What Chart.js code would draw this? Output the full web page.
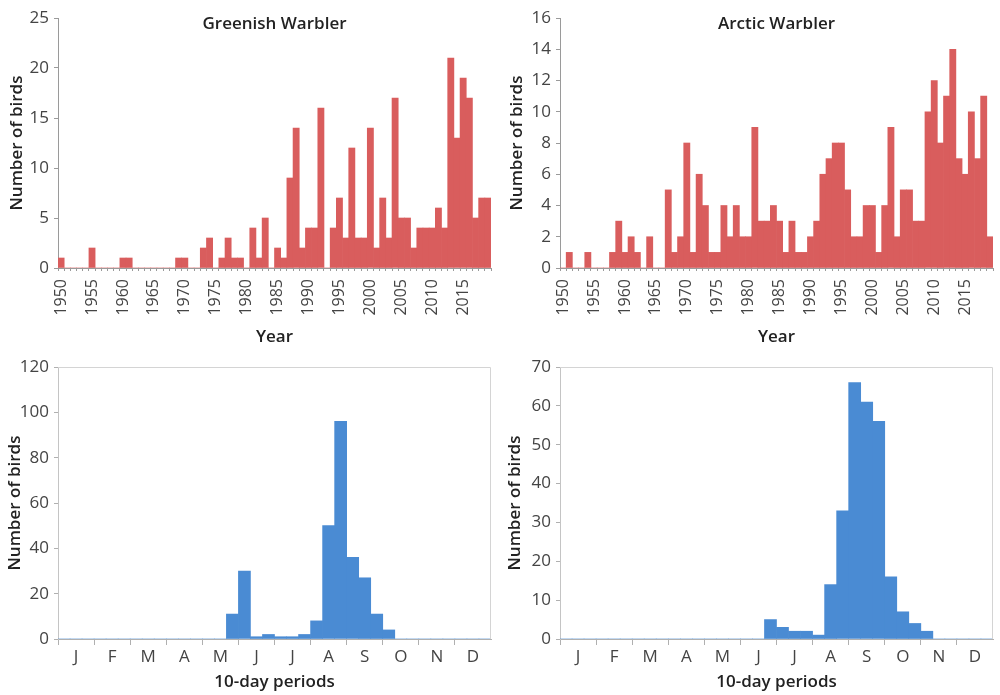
<!DOCTYPE html>
<html>
<head>
<meta charset="utf-8">
<script src="https://cdn.jsdelivr.net/npm/chart.js@4.4.1/dist/chart.umd.min.js"></script>
<style>
  body { margin: 0; background: #fff; }
  canvas { position: absolute; }
</style>
</head>
<body>
<canvas id="greenYear" width="500" height="350" style="left:0;top:0"></canvas>
<canvas id="arcticYear" width="500" height="350" style="left:500px;top:0"></canvas>
<canvas id="greenPeriod" width="500" height="345" style="left:0;top:350px"></canvas>
<canvas id="arcticPeriod" width="500" height="345" style="left:500px;top:350px"></canvas>
<script>
// years 1950-2019, one bar per year
const years = Array.from({ length: 70 }, (_, i) => String(1950 + i));

const greenishByYear = [
  1, 0, 0, 0, 0, 2, 0, 0, 0, 0,
  1, 1, 0, 0, 0, 0, 0, 0, 0, 1,
  1, 0, 0, 2, 3, 0, 1, 3, 1, 1,
  0, 4, 1, 5, 0, 2, 1, 9, 14, 2,
  4, 4, 16, 0, 4, 7, 3, 12, 3, 3,
  14, 2, 7, 3, 17, 5, 5, 2, 4, 4,
  4, 6, 4, 21, 13, 19, 17, 5, 7, 7
];

const arcticByYear = [
  0, 1, 0, 0, 1, 0, 0, 0, 1, 3,
  1, 2, 1, 0, 2, 0, 0, 5, 1, 2,
  8, 1, 6, 4, 1, 1, 4, 2, 4, 2,
  2, 9, 3, 3, 4, 3, 1, 3, 1, 1,
  2, 3, 6, 7, 8, 8, 5, 2, 2, 4,
  4, 1, 4, 9, 2, 5, 5, 3, 3, 10,
  12, 8, 11, 14, 7, 6, 10, 7, 11, 2
];

// 36 ten-day periods, three per month
const months = ['J', 'F', 'M', 'A', 'M', 'J', 'J', 'A', 'S', 'O', 'N', 'D'];
const periods = Array.from({ length: 36 }, (_, i) => months[Math.floor(i / 3)] + (i % 3 + 1));

const greenishByPeriod = [
  0, 0, 0, 0, 0, 0, 0, 0, 0, 0, 0, 0,
  0, 0, 11, 30, 1, 2, 1, 1, 2, 8, 50, 96,
  36, 27, 11, 4, 0, 0, 0, 0, 0, 0, 0, 0
];

const arcticByPeriod = [
  0, 0, 0, 0, 0, 0, 0, 0, 0, 0, 0, 0,
  0, 0, 0, 0, 0, 5, 3, 2, 2, 1, 14, 33,
  66, 61, 56, 16, 7, 4, 2, 0, 0, 0, 0, 0
];

const RED = '#d95d5d';
const BLUE = '#4a8bd3';
const FONT = "'Open Sans', 'DejaVu Sans', sans-serif";

Chart.defaults.font.family = FONT;
Chart.defaults.color = '#444';

const panelTitle = {
  id: 'panelTitle',
  afterDraw(chart, args, opts) {
    if (!opts.text) return;
    const { ctx, chartArea } = chart;
    ctx.save();
    ctx.font = '600 17px ' + FONT;
    ctx.fillStyle = '#222';
    ctx.textAlign = 'center';
    ctx.textBaseline = 'middle';
    ctx.fillText(opts.text, (chartArea.left + chartArea.right) / 2, chartArea.top + 6);
    ctx.restore();
  }
};

const frame = {
  id: 'frame',
  afterDraw(chart, args, opts) {
    if (!opts.show) return;
    const { ctx, chartArea } = chart;
    ctx.save();
    ctx.strokeStyle = '#d4d4d4';
    ctx.lineWidth = 1;
    ctx.beginPath();
    ctx.moveTo(chartArea.left, chartArea.top + 0.5);
    ctx.lineTo(chartArea.right - 0.5, chartArea.top + 0.5);
    ctx.lineTo(chartArea.right - 0.5, chartArea.bottom);
    ctx.stroke();
    ctx.restore();
  }
};

function yearChart(id, values, title, yMax, yStep, yWidth) {
  new Chart(document.getElementById(id), {
    type: 'bar',
    data: {
      labels: years,
      datasets: [{
        data: values,
        backgroundColor: RED,
        borderWidth: 0,
        barPercentage: 1,
        categoryPercentage: 1
      }]
    },
    options: {
      responsive: false,
      animation: false,
      layout: { padding: { top: 18, right: 500 - yWidth - 433, left: 0, bottom: 0 } },
      plugins: {
        legend: { display: false },
        tooltip: { enabled: false },
        panelTitle: { text: title }
      },
      scales: {
        x: {
          afterFit(scale) {
            scale.height = 82;
            scale.paddingLeft = 0;
            scale.paddingRight = 0;
          },
          border: { color: '#9a9a9a' },
          grid: { drawOnChartArea: false, tickLength: 3, color: '#9a9a9a' },
          ticks: {
            autoSkip: false,
            minRotation: 90,
            maxRotation: 90,
            padding: 8,
            font: { size: 16 },
            callback(v, i) { return (1950 + i) % 5 === 0 ? years[i] : ''; }
          },
          title: {
            display: true,
            text: 'Year',
            color: '#222',
            font: { size: 17, weight: '600' },
            padding: { top: 0, bottom: 3 }
          }
        },
        y: {
          min: 0,
          max: yMax,
          afterFit(scale) { scale.width = yWidth; },
          border: { color: '#9a9a9a' },
          grid: { drawOnChartArea: false, tickLength: 4, color: '#9a9a9a' },
          ticks: { stepSize: yStep, padding: 5, font: { size: 17 } },
          title: {
            display: true,
            text: 'Number of birds',
            color: '#222',
            font: { size: 17, weight: '600' },
            padding: { top: 7, bottom: 0 }
          }
        }
      }
    },
    plugins: [panelTitle]
  });
}

function periodChart(id, values, yMax, yStep, yWidth) {
  new Chart(document.getElementById(id), {
    type: 'bar',
    data: {
      labels: periods,
      datasets: [{
        data: values,
        backgroundColor: BLUE,
        borderWidth: 0,
        barPercentage: 1,
        categoryPercentage: 1
      }]
    },
    options: {
      responsive: false,
      animation: false,
      layout: { padding: { top: 17, right: 500 - yWidth - 433, left: 0, bottom: 0 } },
      plugins: {
        legend: { display: false },
        tooltip: { enabled: false },
        frame: { show: true }
      },
      scales: {
        x: {
          afterFit(scale) {
            scale.height = 56;
            scale.paddingLeft = 0;
            scale.paddingRight = 0;
          },
          border: { color: '#b0b0b0' },
          grid: {
            drawOnChartArea: false,
            tickLength: 6,
            tickColor(ctx) { return ctx.index % 3 === 0 ? '#b0b0b0' : 'rgba(0,0,0,0)'; }
          },
          ticks: {
            autoSkip: false,
            maxRotation: 0,
            padding: 2,
            font: { size: 17 },
            callback(v, i) { return i % 3 === 1 ? months[Math.floor(i / 3)] : ''; }
          },
          title: {
            display: true,
            text: '10-day periods',
            color: '#222',
            font: { size: 17, weight: '600' },
            padding: { top: 0, bottom: 3 }
          }
        },
        y: {
          min: 0,
          max: yMax,
          afterFit(scale) { scale.width = yWidth; },
          border: { color: '#c4c4c4' },
          grid: { drawOnChartArea: false, tickLength: 4, color: '#b0b0b0' },
          ticks: { stepSize: yStep, padding: 5, font: { size: 17 } },
          title: {
            display: true,
            text: 'Number of birds',
            color: '#222',
            font: { size: 17, weight: '600' },
            padding: { top: 5, bottom: 0 }
          }
        }
      }
    },
    plugins: [frame]
  });
}

yearChart('greenYear', greenishByYear, 'Greenish Warbler', 25, 5, 58);
yearChart('arcticYear', arcticByYear, 'Arctic Warbler', 16, 2, 60);
periodChart('greenPeriod', greenishByPeriod, 120, 20, 58);
periodChart('arcticPeriod', arcticByPeriod, 70, 10, 60);
</script>
</body>
</html>
